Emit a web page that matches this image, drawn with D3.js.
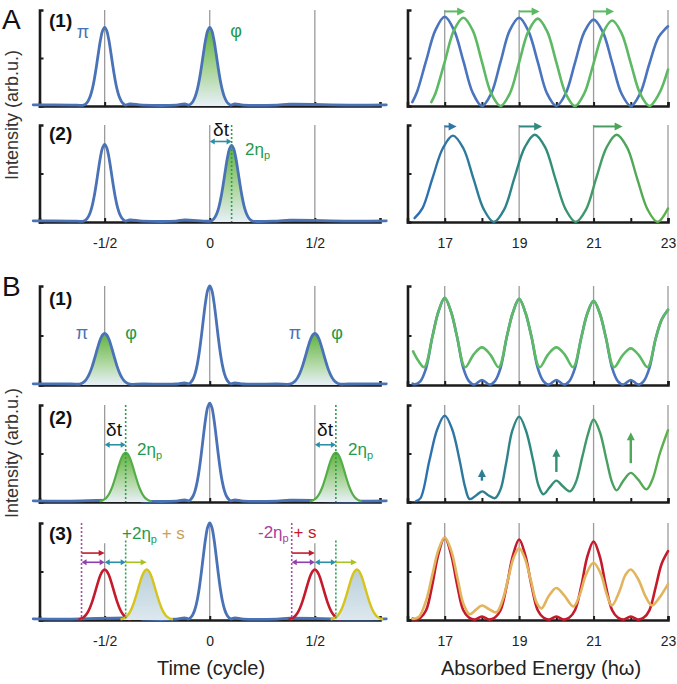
<!DOCTYPE html>
<html>
<head>
<meta charset="utf-8">
<script src="https://cdn.jsdelivr.net/npm/d3@7"></script>
<style>
body { margin: 0; background: #fff; }
text { font-family: "Liberation Sans", Arial, sans-serif; }
</style>
</head>
<body>
<div id="chart"></div>
<script>
// tick values and labels
const timeTicks = [-0.5, 0, 0.5];
const timeTickLabels = ["-1/2", "0", "1/2"];
const energyTicks = [16, 17, 18, 19, 20, 21, 22, 23];
const energyGrid = [17, 19, 21, 23];
const energyLabelTicks = [17, 19, 21, 23];

// pulse profiles (offset in cycles, height relative to peak)
const narrowPulse = [[0,1],[0.01,0.956],[0.02,0.837],[0.03,0.67],[0.04,0.49],[0.05,0.328],[0.06,0.201],[0.07,0.113],[0.08,0.058],[0.09,0.027],[0.10,0.012]];
const widePulse = [[0,1],[0.01,0.971],[0.02,0.891],[0.03,0.771],[0.04,0.63],[0.05,0.486],[0.06,0.353],[0.07,0.243],[0.08,0.157],[0.09,0.096],[0.10,0.056],[0.11,0.03],[0.12,0.016]];

// small wiggles of the baseline
const baseLeft = [[-0.84,0.012],[-0.66,0.01],[-0.38,0.022],[-0.32,0.01],[-0.16,0.01],[-0.12,0.022],[0.12,0.022],[0.16,0.01],[0.32,0.01],[0.38,0.018],[0.66,0.01],[0.84,0.012]];

// pulse centres / heights, left column
const a1Centres = [-0.5, 0], a1Heights = [0.82, 0.82];
const a2Centres = [-0.5, 0.104], a2Heights = [0.80, 0.79];
const bCentreHeights = [1.0, 1.02, 1.0];
const b1Centres = [-0.5, 0.5], b1Heights = [0.52, 0.52];
const b2Centres = [-0.4, 0.6], b2Heights = [0.51, 0.51];
const b3RedCentres = [-0.5, 0.5], b3RedHeights = [0.52, 0.52];
const b3YellowCentres = [-0.3, 0.7], b3YellowHeights = [0.52, 0.52];
const b3Magenta = [-0.61, 0.39];
const b3Green = [-0.4, 0.6];

// spectra, right column
const specA1Blue = [[16.13,0.04],[16.25,0.14],[16.5,0.47],[16.75,0.79],[17,0.93],[17.25,0.79],[17.5,0.47],[17.75,0.14],[18,0],[18.25,0.13],[18.5,0.46],[18.75,0.79],[19,0.92],[19.25,0.78],[19.5,0.46],[19.75,0.13],[20,0],[20.25,0.13],[20.5,0.45],[20.75,0.77],[21,0.9],[21.25,0.77],[21.5,0.45],[21.75,0.13],[22,0],[22.25,0.13],[22.5,0.44],[22.75,0.72],[23,0.83]];
const specA1Green = [[16.64,0.04],[16.75,0.13],[17,0.46],[17.25,0.79],[17.5,0.92],[17.75,0.79],[18,0.46],[18.25,0.13],[18.5,0],[18.75,0.13],[19,0.455],[19.25,0.78],[19.5,0.91],[19.75,0.78],[20,0.455],[20.25,0.13],[20.5,0],[20.75,0.13],[21,0.445],[21.25,0.76],[21.5,0.89],[21.75,0.76],[22,0.445],[22.25,0.13],[22.5,0],[22.75,0.12],[23,0.38]];
const specA2 = [[16.19,0.04],[16.4,0.14],[16.67,0.45],[16.95,0.76],[17.22,0.89],[17.5,0.76],[17.77,0.45],[18.05,0.13],[18.32,0],[18.6,0.13],[18.87,0.45],[19.15,0.77],[19.42,0.9],[19.7,0.77],[19.97,0.45],[20.25,0.13],[20.52,0],[20.8,0.13],[21.07,0.45],[21.35,0.77],[21.62,0.9],[21.9,0.77],[22.17,0.45],[22.45,0.13],[22.72,0],[23,0.14]];
const specB1Green = [[16.15,0.34],[16.3,0.24],[16.45,0.18],[16.67,0.49],[16.83,0.74],[17,0.88],[17.17,0.74],[17.33,0.49],[17.55,0.18],[17.78,0.31],[18,0.38],[18.22,0.31],[18.45,0.18],[18.67,0.49],[18.83,0.73],[19,0.87],[19.17,0.73],[19.33,0.49],[19.55,0.18],[19.78,0.31],[20,0.38],[20.22,0.31],[20.45,0.18],[20.67,0.48],[20.83,0.72],[21,0.85],[21.17,0.72],[21.33,0.48],[21.55,0.18],[21.78,0.3],[22,0.37],[22.22,0.3],[22.45,0.18],[22.67,0.47],[22.83,0.66],[23,0.76]];
const specB1Blue = [[16.14,0.015],[16.2,0.008],[16.35,0.04],[16.5,0.17],[16.67,0.49],[16.83,0.74],[17,0.88],[17.17,0.74],[17.33,0.49],[17.5,0.17],[17.65,0.04],[17.8,0.005],[18,0.05],[18.2,0.005],[18.35,0.04],[18.5,0.17],[18.67,0.49],[18.83,0.73],[19,0.87],[19.17,0.73],[19.33,0.49],[19.5,0.17],[19.65,0.04],[19.8,0.005],[20,0.05],[20.2,0.005],[20.35,0.04],[20.5,0.17],[20.67,0.48],[20.83,0.72],[21,0.85],[21.17,0.72],[21.33,0.48],[21.5,0.17],[21.65,0.04],[21.8,0.005],[22,0.05],[22.2,0.005],[22.35,0.04],[22.5,0.17],[22.67,0.47],[22.83,0.66],[23,0.76]];
const specB2 = [[16.23,0.01],[16.35,0.04],[16.59,0.43],[16.8,0.75],[17,0.89],[17.2,0.75],[17.4,0.43],[17.55,0.15],[17.67,0.03],[17.85,0.07],[18.01,0.11],[18.17,0.07],[18.35,0.04],[18.5,0.13],[18.65,0.4],[18.82,0.74],[19,0.88],[19.18,0.74],[19.38,0.42],[19.52,0.17],[19.65,0.08],[19.82,0.15],[20,0.22],[20.18,0.16],[20.37,0.11],[20.52,0.2],[20.7,0.47],[20.85,0.7],[21,0.85],[21.17,0.72],[21.35,0.43],[21.5,0.2],[21.62,0.12],[21.8,0.22],[22,0.3],[22.2,0.23],[22.42,0.13],[22.58,0.23],[22.78,0.5],[23,0.74]];
const specB3Red = [[16.14,0.015],[16.2,0.005],[16.35,0.025],[16.5,0.1],[16.67,0.37],[16.83,0.68],[17,0.85],[17.17,0.68],[17.33,0.37],[17.5,0.1],[17.65,0.025],[17.8,0.004],[18,0.035],[18.2,0.004],[18.35,0.025],[18.5,0.1],[18.67,0.36],[18.83,0.66],[19,0.83],[19.17,0.66],[19.33,0.36],[19.5,0.1],[19.65,0.025],[19.8,0.004],[20,0.035],[20.2,0.004],[20.35,0.025],[20.5,0.1],[20.67,0.35],[20.83,0.65],[21,0.81],[21.17,0.65],[21.33,0.35],[21.5,0.1],[21.65,0.025],[21.8,0.004],[22,0.035],[22.2,0.004],[22.35,0.025],[22.5,0.1],[22.67,0.34],[22.83,0.58],[23,0.71]];
const specB3Tan = [[16.14,0.01],[16.3,0.03],[16.5,0.2],[16.67,0.47],[16.83,0.72],[17,0.85],[17.17,0.72],[17.35,0.42],[17.5,0.17],[17.67,0.06],[17.85,0.11],[18,0.15],[18.2,0.11],[18.39,0.08],[18.55,0.2],[18.72,0.45],[18.85,0.64],[19,0.74],[19.15,0.64],[19.32,0.4],[19.47,0.18],[19.6,0.12],[19.8,0.25],[20,0.33],[20.2,0.26],[20.46,0.14],[20.62,0.25],[20.8,0.47],[21,0.59],[21.2,0.47],[21.35,0.27],[21.49,0.15],[21.7,0.3],[21.85,0.46],[22,0.52],[22.2,0.42],[22.4,0.24],[22.57,0.15],[22.75,0.22],[23,0.37]];

// arrows on the spectra
const shiftArrowsA1 = [[17,17.55],[19,19.55],[21,21.55]];
const shiftArrowsA2 = [[17,17.32],[19,19.62],[21,21.78]];
const riseArrowsB2 = [[18,0.22,0.34],[20,0.31,0.55],[22,0.40,0.72]];

const BLUE = "#4a72b6", GREEN_TXT = "#1f9a4c", TEAL = "#2b8fa8";

const svg = d3.select("#chart").append("svg")
	.attr("width", 677)
	.attr("height", 684);
const defs = svg.append("defs");

const gf = defs.append("linearGradient").attr("id", "greenFill")
	.attr("x1", 0).attr("y1", 0).attr("x2", 0).attr("y2", 1);
gf.append("stop").attr("offset", 0).attr("stop-color", "#5fb23f");
gf.append("stop").attr("offset", 0.6).attr("stop-color", "#b3d9a6");
gf.append("stop").attr("offset", 1).attr("stop-color", "#e8f0f8");

const yf = defs.append("linearGradient").attr("id", "yellowFill")
	.attr("x1", 0).attr("y1", 0).attr("x2", 0).attr("y2", 1);
yf.append("stop").attr("offset", 0).attr("stop-color", "#b8cfd9");
yf.append("stop").attr("offset", 1).attr("stop-color", "#dde8ee");

const xL = d3.scaleLinear().domain([-0.81, 0.81]).range([39.5, 380]);
const xR = d3.scaleLinear().domain([16, 23]).range([407.5, 668]);

const specStops = ["#2c6cb8", "#2f8a7c", "#5db24a"];
const specColor = d3.scaleLinear().domain([408, 540, 668]).range(specStops);
const sg = defs.append("linearGradient").attr("id", "specGrad")
	.attr("gradientUnits", "userSpaceOnUse")
	.attr("x1", 408).attr("x2", 668).attr("y1", 0).attr("y2", 0);
[0, 0.5, 1].forEach((o, i) => sg.append("stop").attr("offset", o).attr("stop-color", specStops[i]));

const rows = [
	{id: "A1", top: 10, base: 106, labels: false, gridLeft: 1},
	{id: "A2", top: 125, base: 222, labels: true, gridLeft: 1},
	{id: "B1", top: 286, base: 385, labels: false, gridLeft: 1},
	{id: "B2", top: 405, base: 502, labels: false, gridLeft: 1},
	{id: "B3", top: 523, base: 620, labels: true, gridLeft: 0.79}
];

function pulsePoints(c, h, profile) {
	const pts = [];
	profile.forEach(([dt, r]) => {
		pts.push([c + dt, h * r]);
		if (dt > 0) pts.push([c - dt, h * r]);
	});
	return pts.sort((a, b) => a[0] - b[0]);
}

function trace(groups) {
	const pts = baseLeft.filter(p => groups.every(gr =>
		gr.c.every(c => Math.abs(p[0] - c) > gr.p[gr.p.length - 1][0] + 0.01)));
	groups.forEach(gr => gr.c.forEach((c, i) => pts.push(...pulsePoints(c, gr.h[i], gr.p))));
	return pts.sort((a, b) => a[0] - b[0]);
}

function head(g, x, y, ang, color, L, W) {
	const bx = x - Math.cos(ang) * L, by = y - Math.sin(ang) * L;
	const px = -Math.sin(ang) * W, py = Math.cos(ang) * W;
	g.append("path")
		.attr("d", `M${x},${y}L${bx + px},${by + py}L${bx - px},${by - py}Z`)
		.attr("fill", color);
}

function arrow(g, x1, y1, x2, y2, color, opt) {
	const L = opt.len || 6, W = opt.wid || 3, ang = Math.atan2(y2 - y1, x2 - x1);
	const ux = Math.cos(ang), uy = Math.sin(ang);
	const sx = opt.both ? x1 + ux * L * 0.7 : x1, sy = opt.both ? y1 + uy * L * 0.7 : y1;
	g.append("line")
		.attr("x1", sx).attr("y1", sy)
		.attr("x2", x2 - ux * L * 0.7).attr("y2", y2 - uy * L * 0.7)
		.attr("stroke", opt.stroke || color)
		.attr("stroke-width", opt.sw || 1.6);
	head(g, x2, y2, ang, opt.headColor || color, L, W);
	if (opt.both) head(g, x1, y1, ang + Math.PI, opt.tailColor || color, L, W);
}

function styleAxis(sel) {
	sel.select(".domain").attr("stroke", "#1b1b1b").attr("stroke-width", 2.6).attr("fill", "none");
	sel.selectAll(".tick line").attr("stroke", "#1b1b1b").attr("stroke-width", 2);
	sel.selectAll("text").attr("font-family", '"Liberation Sans", Arial, sans-serif')
		.attr("font-size", 14).attr("fill", "#222");
}

function label(x, y, parts, opt = {}) {
	const t = svg.append("text")
		.attr("x", x).attr("y", y)
		.attr("font-size", opt.size || 17)
		.attr("font-weight", opt.weight || "normal")
		.attr("text-anchor", opt.anchor || "start")
		.style("white-space", "pre");
	parts.forEach(p => {
		const s = t.append("tspan").attr("fill", p.fill || "#111").text(p.t);
		if (p.sub) s.attr("dy", 4).attr("font-size", 11);
		if (p.after) s.attr("dy", -4);
	});
	return t;
}

rows.forEach(r => {
	const y = d3.scaleLinear().domain([0, 1]).range([r.base, r.top]);
	r.y = y;
	const g = svg.append("g").attr("class", "row-" + r.id);
	r.g = g;

	// grid lines
	g.selectAll(".gl").data(timeTicks).join("line")
		.attr("x1", d => xL(d)).attr("x2", d => xL(d))
		.attr("y1", d => y(d === 0 ? 1 : r.gridLeft)).attr("y2", y(0))
		.attr("stroke", "#9b9b9b").attr("stroke-width", 1.3);
	g.selectAll(".gr").data(energyGrid).join("line")
		.attr("x1", d => xR(d)).attr("x2", d => xR(d))
		.attr("y1", y(1)).attr("y2", y(0))
		.attr("stroke", "#9b9b9b").attr("stroke-width", 1.3);

	// axes
	g.append("g").attr("transform", `translate(0,${y(0)})`)
		.call(d3.axisBottom(xL).tickValues(timeTicks).tickSize(-4).tickSizeOuter(-4).tickPadding(16)
			.tickFormat((d, i) => r.labels ? timeTickLabels[i] : ""))
		.call(styleAxis);
	g.append("g").attr("transform", `translate(${xL.range()[0]},0)`)
		.call(d3.axisLeft(y).tickValues([0.5]).tickSize(-4).tickSizeOuter(-4).tickFormat(""))
		.call(styleAxis);
	g.append("g").attr("transform", `translate(0,${y(0)})`)
		.call(d3.axisBottom(xR).tickValues(energyTicks).tickSize(-4).tickSizeOuter(-4).tickPadding(16)
			.tickFormat(d => r.labels && energyLabelTicks.includes(d) ? d : ""))
		.call(styleAxis);
	g.append("g").attr("transform", `translate(${xR.range()[0]},0)`)
		.call(d3.axisLeft(y).tickValues([0.5]).tickSize(-4).tickSizeOuter(-4).tickFormat(""))
		.call(styleAxis);
});

const curve = d3.curveCatmullRom.alpha(0.5);
function lineL(y) { return d3.line().x(d => xL(d[0])).y(d => y(d[1])).curve(curve); }
function areaL(y) { return d3.area().x(d => xL(d[0])).y0(y(0)).y1(d => y(d[1])).curve(curve); }
function lineR(y) { return d3.line().x(d => xR(d[0])).y(d => y(d[1])).curve(curve); }

function drawPath(g, d, color, w) {
	g.append("path").attr("d", d).attr("fill", "none")
		.attr("stroke", color).attr("stroke-width", w || 2.8)
		.attr("stroke-linejoin", "round").attr("stroke-linecap", "round");
}
function fillPath(g, d, fill) {
	g.append("path").attr("d", d).attr("fill", fill);
}
function vdot(g, x, y1, y2, color) {
	g.append("line").attr("x1", x).attr("x2", x).attr("y1", y1).attr("y2", y2)
		.attr("stroke", color).attr("stroke-width", 1.6).attr("stroke-dasharray", "2,2");
}

// ---- A1
{
	const r = rows[0], g = r.g, y = r.y;
	fillPath(g, areaL(y)(pulsePoints(a1Centres[1], a1Heights[1], narrowPulse)), "url(#greenFill)");
	drawPath(g, lineL(y)(trace([{c: a1Centres, h: a1Heights, p: narrowPulse}])), BLUE);
	drawPath(g, lineR(y)(specA1Blue), "#4a74bd", 2.6);
	drawPath(g, lineR(y)(specA1Green), "#5eb964", 2.6);
	shiftArrowsA1.forEach(([a, b]) => arrow(g, xR(a), y(0.985), xR(b), y(0.985), "#5eb964", {len: 8, wid: 4, sw: 2}));
}
// ---- A2
{
	const r = rows[1], g = r.g, y = r.y;
	fillPath(g, areaL(y)(pulsePoints(a2Centres[1], a2Heights[1], narrowPulse)), "url(#greenFill)");
	drawPath(g, lineL(y)(trace([{c: a2Centres, h: a2Heights, p: narrowPulse}])), BLUE);
	vdot(g, xL(a2Centres[1]), y(1.0), y(0), "#2aa050");
	arrow(g, xL(0), y(0.83), xL(a2Centres[1]), y(0.83), TEAL, {both: true, len: 5, wid: 3});
	drawPath(g, lineR(y)(specA2), "url(#specGrad)", 2.4);
	shiftArrowsA2.forEach(([a, b]) => arrow(g, xR(a), y(0.985), xR(b), y(0.985), specColor(xR(b)),
		{len: 8, wid: 4, sw: 2, stroke: "url(#specGrad)"}));
}
// ---- B1
{
	const r = rows[2], g = r.g, y = r.y;
	b1Centres.forEach((c, i) => fillPath(g, areaL(y)(pulsePoints(c, b1Heights[i], widePulse)), "url(#greenFill)"));
	drawPath(g, lineL(y)(trace([{c: [0], h: [bCentreHeights[0]], p: narrowPulse}, {c: b1Centres, h: b1Heights, p: widePulse}])), BLUE);
	drawPath(g, lineR(y)(specB1Blue), "#4a74bd", 2.6);
	drawPath(g, lineR(y)(specB1Green), "#5eb964", 2.6);
}
// ---- B2
{
	const r = rows[3], g = r.g, y = r.y;
	drawPath(g, lineL(y)(trace([{c: [0], h: [bCentreHeights[1]], p: narrowPulse}])), BLUE);
	b2Centres.forEach((c, i) => {
		const pts = pulsePoints(c, b2Heights[i], widePulse);
		fillPath(g, areaL(y)(pts), "url(#greenFill)");
		drawPath(g, lineL(y)(pts), "#55ad48", 2.2);
		vdot(g, xL(c), y(1.0), y(0), "#2aa050");
		arrow(g, xL(c - 0.1), y(0.59), xL(c), y(0.59), TEAL, {both: true, len: 5, wid: 3});
	});
	drawPath(g, lineR(y)(specB2), "url(#specGrad)", 2.4);
	riseArrowsB2.forEach(([e, a, b]) => arrow(g, xR(e), y(a), xR(e), y(b), specColor(xR(e)), {len: 8, wid: 4, sw: 2.4}));
}
// ---- B3
{
	const r = rows[4], g = r.g, y = r.y;
	drawPath(g, lineL(y)(trace([{c: [0], h: [bCentreHeights[2]], p: narrowPulse}])), BLUE);
	b3RedCentres.forEach((c, i) => drawPath(g, lineL(y)(pulsePoints(c, b3RedHeights[i], widePulse)), "#c41a2b", 2.6));
	b3YellowCentres.forEach((c, i) => {
		const pts = pulsePoints(c, b3YellowHeights[i], widePulse);
		fillPath(g, areaL(y)(pts), "url(#yellowFill)");
		drawPath(g, lineL(y)(pts), "#d6c41c", 2.4);
	});
	b3Magenta.forEach(m => vdot(g, xL(m), y(1.0), y(0), "#b04aa0"));
	b3Green.forEach(m => vdot(g, xL(m), y(0.82), y(0), "#2aa050"));
	b3RedCentres.forEach((c, i) => {
		const m = b3Magenta[i], gr = b3Green[i], yc = b3YellowCentres[i];
		arrow(g, xL(m), y(0.69), xL(c), y(0.69), "#c41a2b", {len: 6, wid: 3});
		arrow(g, xL(m), y(0.595), xL(c), y(0.595), "#8f3fae", {both: true, len: 5, wid: 3});
		arrow(g, xL(c), y(0.595), xL(gr), y(0.595), TEAL, {both: true, len: 5, wid: 3});
		arrow(g, xL(gr), y(0.595), xL(yc), y(0.595), "#a9c21e", {len: 6, wid: 3});
	});
	drawPath(g, lineR(y)(specB3Red), "#c41a2b", 2.6);
	drawPath(g, lineR(y)(specB3Tan), "#e2b45e", 2.6);
}

// ---- labels
label(2, 29, [{t: "A"}], {size: 28});
label(2, 296, [{t: "B"}], {size: 28});
label(49, 27, [{t: "(1)"}], {weight: "bold", size: 19});
label(49, 140, [{t: "(2)"}], {weight: "bold", size: 19});
label(49, 305, [{t: "(1)"}], {weight: "bold", size: 19});
label(49, 424, [{t: "(2)"}], {weight: "bold", size: 19});
label(49, 540, [{t: "(3)"}], {weight: "bold", size: 19});

label(83, 38, [{t: "π", fill: BLUE}], {anchor: "middle", size: 18});
label(236, 37, [{t: "φ", fill: GREEN_TXT}], {anchor: "middle", size: 18});
label(221, 136, [{t: "δt"}], {anchor: "middle", size: 19});
label(245, 155, [{t: "2η", fill: GREEN_TXT}, {t: "p", fill: GREEN_TXT, sub: true}]);

[[82, 131], [295, 337]].forEach(([p, f]) => {
	label(p, 339, [{t: "π", fill: BLUE}], {anchor: "middle", size: 18});
	label(f, 339, [{t: "φ", fill: GREEN_TXT}], {anchor: "middle", size: 18});
});
[[114, 137], [325, 348]].forEach(([d, e]) => {
	label(d, 436, [{t: "δt"}], {anchor: "middle", size: 19});
	label(e, 455, [{t: "2η", fill: GREEN_TXT}, {t: "p", fill: GREEN_TXT, sub: true}]);
});
label(122, 539, [{t: "+2η", fill: GREEN_TXT}, {t: "p", fill: GREEN_TXT, sub: true}, {t: "\u00a0+ s", fill: "#c9a05a", after: true}]);
label(258, 538, [{t: "-2η", fill: "#a8409c"}, {t: "p", fill: "#a8409c", sub: true}, {t: "\u00a0+ s", fill: "#c41a2b", after: true}]);

svg.append("text").attr("transform", "translate(18,115) rotate(-90)")
	.attr("text-anchor", "middle").attr("font-size", 18).attr("fill", "#333")
	.text("Intensity (arb.u.)");
svg.append("text").attr("transform", "translate(18,453) rotate(-90)")
	.attr("text-anchor", "middle").attr("font-size", 18).attr("fill", "#333")
	.text("Intensity (arb.u.)");
svg.append("text").attr("x", 211).attr("y", 675).attr("text-anchor", "middle")
	.attr("font-size", 20).attr("fill", "#222").text("Time (cycle)");
svg.append("text").attr("x", 541).attr("y", 675).attr("text-anchor", "middle")
	.attr("font-size", 20).attr("fill", "#222").text("Absorbed Energy (hω)");
</script>
</body>
</html>
